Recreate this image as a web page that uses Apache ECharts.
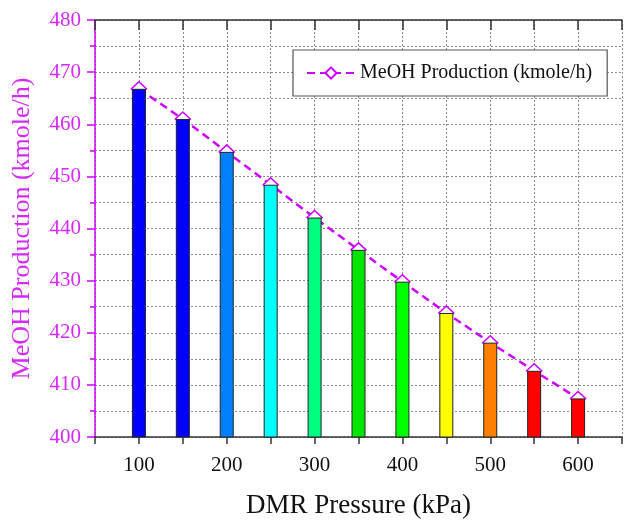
<!DOCTYPE html>
<html>
<head>
<meta charset="utf-8">
<script src="https://cdn.jsdelivr.net/npm/echarts@6/dist/echarts.min.js"></script>
<style>
  html, body { margin: 0; padding: 0; background: #fff; }
  #main { width: 625px; height: 524px; }
</style>
</head>
<body>
<div id="main"></div>
<script>
// 数据
var pressure = [100, 150, 200, 250, 300, 350, 400, 450, 500, 550, 600];
var production = [466.8, 461.0, 454.7, 448.4, 442.1, 435.9, 429.8, 423.8, 418.1, 412.7, 407.4];
var barColors = ["#0000FF", "#0000FF", "#0080FF", "#00FFFF", "#00FF80", "#00E600",
  "#00FF00", "#FFFF00", "#FF8000", "#FF0000", "#FF0000"];
var seriesName = "MeOH Production (kmole/h)";

var magenta = "#CC00FF";
var textMagenta = "#D42AF5";
var serif = "Liberation Serif";
var dotted = { color: "#8a8a8a", type: [2, 2], width: 1 };

var chart = echarts.init(document.getElementById("main"));

var barData = pressure.map(function (p, i) {
  return {
    value: [p, production[i]],
    itemStyle: { color: barColors[i] },
  };
});
var lineData = pressure.map(function (p, i) {
  return [p, production[i]];
});

chart.setOption({
  backgroundColor: "#fff",
  animation: false,
  grid: {
    left: 95,
    right: -2,
    top: 20,
    bottom: 81,
  },
  legend: {
    data: [seriesName],
    left: 293,
    top: 50,
    padding: [13, 15, 13, 13],
    borderColor: "#555",
    borderWidth: 1.2,
    backgroundColor: "#fff",
    itemWidth: 48,
    itemHeight: 14,
    textStyle: { fontFamily: serif, fontSize: 20, color: "#111" },
  },
  xAxis: [
    {
      type: "value",
      min: 50,
      max: 650,
      interval: 50,
      name: "DMR Pressure (kPa)",
      nameLocation: "middle",
      nameGap: 55,
      nameTextStyle: { fontFamily: serif, fontSize: 27, color: "#111" },
      axisLine: { show: true, lineStyle: { color: "#333", width: 1.5 } },
      axisTick: { show: true, length: 7, lineStyle: { color: "#333", width: 1.5 } },
      axisLabel: {
        margin: 18,
        fontFamily: serif,
        fontSize: 21,
        color: "#111",
        formatter: function (v) {
          return v % 100 === 0 && v >= 100 && v <= 600 ? String(v) : "";
        },
      },
      splitLine: { show: true, lineStyle: dotted },
    },
    {
      type: "value",
      position: "top",
      min: 50,
      max: 650,
      interval: 50,
      axisLine: { show: true, onZero: false, lineStyle: { color: "#333", width: 1.5 } },
      axisTick: { show: true, inside: true, length: 10, lineStyle: { color: "#333", width: 1.5 } },
      axisLabel: { show: false },
      splitLine: { show: false },
    },
  ],
  yAxis: {
    type: "value",
    min: 400,
    max: 480,
    interval: 10,
    name: seriesName,
    nameLocation: "middle",
    nameGap: 60,
    nameTextStyle: { fontFamily: serif, fontSize: 26, color: textMagenta },
    axisLine: { show: true, lineStyle: { color: magenta, width: 1.5 } },
    axisTick: { show: true, length: 8, lineStyle: { color: magenta, width: 1.5 } },
    minorTick: { show: true, splitNumber: 2, length: 5, lineStyle: { color: magenta, width: 1.5 } },
    axisLabel: { margin: 14, fontFamily: serif, fontSize: 21, color: textMagenta },
    splitLine: { show: true, lineStyle: dotted },
    minorSplitLine: { show: true, lineStyle: dotted },
  },
  series: [
    {
      name: seriesName,
      type: "line",
      data: lineData,
      z: 2,
      symbol: "diamond",
      symbolSize: [15, 14],
      lineStyle: { color: magenta, width: 2.5, type: [8, 5] },
      itemStyle: { color: "#fff", borderColor: magenta, borderWidth: 1.5 },
    },
    {
      name: "bars",
      type: "bar",
      data: barData,
      barWidth: 14,
      z: 3,
      itemStyle: { borderColor: "#222", borderWidth: 1 },
    },
  ],
});
</script>
</body>
</html>
